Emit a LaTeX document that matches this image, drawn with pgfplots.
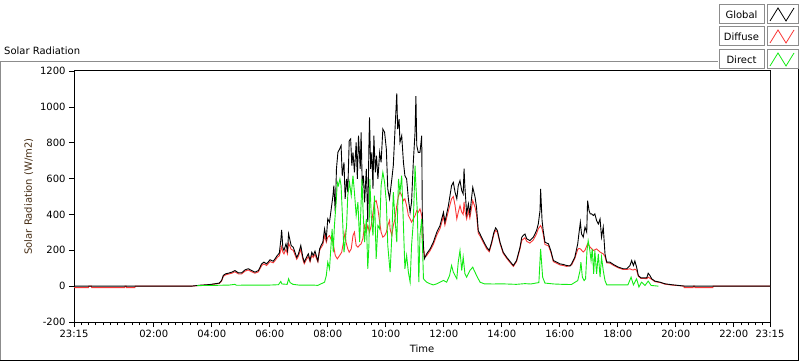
\documentclass[border=0pt]{standalone}
\usepackage{fontspec}
\setmainfont{DejaVu Sans}
\usepackage{pgfplots}
\pgfplotsset{compat=1.18}
\definecolor{ylab}{RGB}{70,45,20}
\definecolor{grn}{RGB}{20,235,20}
\definecolor{rd}{RGB}{250,55,55}
\definecolor{frm}{RGB}{140,140,140}
\begin{document}
\begin{tikzpicture}[font=\fontsize{10bp}{12bp}\selectfont]
\path[use as bounding box] (0bp,0bp) rectangle (800bp,361bp);
% outer frame
\draw[frm, line width=1bp] (0.5bp,0bp) -- (0.5bp,299.5bp) -- (718bp,299.5bp);
\draw[black, line width=1bp] (0bp,0.5bp) -- (798.5bp,0.5bp) -- (798.5bp,292bp);
\node[anchor=west, inner sep=0pt] at (4bp,310bp) {Solar Radiation};
% legend
\foreach \yb/\lab/\col in {337/Global/black, 315/Diffuse/rd, 292/Direct/grn}{
  \draw[frm, line width=1bp, fill=white] (719bp,\yb bp) rectangle (764bp,\yb bp+19bp);
  \node[inner sep=0pt] at (741.5bp,\yb bp+9.5bp) {\lab};
  \draw[frm, line width=1bp, fill=white] (767bp,\yb bp) rectangle (798bp,\yb bp+19bp);
  \draw[\col, line width=0.8bp] (770bp,\yb bp+3bp) -- (778bp,\yb bp+16bp) -- (786bp,\yb bp+3bp) -- (794bp,\yb bp+16bp);
}
\begin{axis}[
  at={(74bp,39bp)}, anchor=south west,
  scale only axis, width=696bp, height=251bp,
  xmin=-0.75, xmax=23.25, ymin=-200, ymax=1200,
  axis line style={black, line width=1bp},
  tick align=outside,
  major tick length=5bp, minor tick length=3bp,
  tick style={black, line width=0.7bp},
  xtick={-0.75,2,4,6,8,10,12,14,16,18,20,22,23.25},
  xticklabels={23:15,02:00,04:00,06:00,08:00,10:00,12:00,14:00,16:00,18:00,20:00,22:00,23:15},
  minor xtick={-0.5,-0.25,...,23},
  ytick={-200,0,200,400,600,800,1000,1200},
  yminorticks=false,
  scaled y ticks=false,
  xtick pos=bottom, ytick pos=left,
  /pgf/number format/assume math mode=true,
  /pgf/number format/1000 sep={},
  ticklabel style={font=\fontsize{10bp}{12bp}\selectfont},
  xlabel={Time},
  ylabel={Solar Radiation (W/m2)},
  ylabel style={color=ylab},
  clip=true,
]
% Diffuse
\addplot[rd, line width=0.9bp] coordinates {
(-0.75,-8) (-0.25,-8) (-0.24,0) (-0.15,0) (-0.14,-8) (1.0,-8) (1.01,0) (1.05,0) (1.06,-8) (1.35,-8) (1.36,0) (3.3,0)
(3.59,4) (3.94,8) (4.26,15) (4.34,28) (4.40,55) (4.48,63) (4.57,67) (4.69,72) (4.80,80) (4.92,68) (5.03,68) (5.15,84) (5.26,90) (5.38,80) (5.49,72) (5.61,80) (5.72,115) (5.80,124) (5.89,115) (6.01,137) (6.12,130) (6.18,142) (6.26,160) (6.33,170) (6.38,200) (6.41,220) (6.45,190) (6.49,180) (6.56,205) (6.61,180) (6.65,240) (6.70,220) (6.74,205) (6.81,200) (6.87,175) (6.93,150) (6.99,168) (7.07,205) (7.14,150) (7.19,125) (7.27,150) (7.33,165) (7.39,135) (7.45,172) (7.50,160) (7.56,178) (7.62,150) (7.66,135) (7.72,200) (7.77,215) (7.83,230) (7.89,282) (7.95,245) (8.00,273) (8.06,282) (8.12,260) (8.18,245) (8.26,171) (8.33,152) (8.41,171) (8.48,189) (8.56,264) (8.60,301) (8.63,245) (8.69,208) (8.74,189) (8.81,208) (8.87,282) (8.92,301) (8.98,227) (9.04,217) (9.09,227) (9.15,236) (9.21,264) (9.27,338) (9.33,301) (9.38,338) (9.44,301) (9.50,338) (9.56,412) (9.61,468) (9.67,477) (9.73,431) (9.79,357) (9.84,301) (9.90,273) (9.96,282) (10.02,301) (10.07,338) (10.13,366) (10.15,319) (10.21,282) (10.26,338) (10.32,375) (10.38,449) (10.44,505) (10.49,524) (10.55,505) (10.61,477) (10.66,487) (10.72,449) (10.78,394) (10.84,375) (10.89,357) (10.95,375) (11.01,394) (11.07,422) (11.12,412) (11.18,431) (11.24,394) (11.26,245) (11.30,208) (11.35,162) (11.41,170) (11.53,198) (11.64,232) (11.76,285) (11.87,320) (11.99,390) (12.04,340) (12.16,420) (12.27,487) (12.33,500) (12.39,450) (12.45,375) (12.50,412) (12.56,449) (12.62,412) (12.67,400) (12.70,470) (12.73,420) (12.79,375) (12.85,420) (12.90,380) (13.0,477) (13.08,440) (13.13,400) (13.19,295) (13.25,280) (13.36,245) (13.48,208) (13.57,192) (13.65,236) (13.73,290) (13.79,312) (13.85,300) (13.94,238) (14.05,183) (14.17,155) (14.28,133) (14.40,110) (14.51,137) (14.63,208) (14.69,255) (14.74,262) (14.80,270) (14.86,250) (14.97,240) (15.09,258) (15.20,292) (15.26,320) (15.34,338) (15.39,320) (15.43,290) (15.49,232) (15.61,225) (15.69,190) (15.78,137) (15.89,128) (16.01,118) (16.12,115) (16.24,110) (16.41,118) (16.52,155) (16.62,205) (16.66,210) (16.71,208) (16.81,190) (16.87,200) (16.96,236) (17.05,217) (17.16,199) (17.27,208) (17.39,190) (17.50,180) (17.56,165) (17.62,130) (17.73,128) (17.85,116) (18.02,102) (18.19,93) (18.31,93) (18.42,97) (18.48,92) (18.54,90) (18.59,95) (18.65,88) (18.71,55) (18.80,43) (19.0,42) (19.05,50) (19.17,38) (19.28,25) (19.46,20) (19.63,11) (19.86,6) (20.09,3) (20.28,0) (20.29,-8) (20.6,-8) (20.61,0) (20.65,0) (20.66,-8) (21.28,-8) (21.29,0) (23.25,0)
};
% Global
\addplot[black, line width=0.9bp] coordinates {
(-0.75,0) (3.3,0) (3.59,5) (3.94,9) (4.26,17) (4.34,32) (4.40,60) (4.48,69) (4.57,72) (4.69,78) (4.80,87) (4.92,74) (5.03,74) (5.15,91) (5.26,97) (5.38,87) (5.49,78) (5.61,87) (5.72,124) (5.80,134) (5.89,124) (6.01,147) (6.12,139) (6.18,152) (6.26,171) (6.33,184) (6.38,254) (6.41,314) (6.45,217) (6.49,199) (6.56,236) (6.61,199) (6.65,292) (6.70,254) (6.74,226) (6.81,217) (6.87,189) (6.93,160) (6.99,180) (7.07,227) (7.14,162) (7.19,134) (7.27,162) (7.33,180) (7.39,143) (7.45,189) (7.50,171) (7.56,195) (7.62,162) (7.66,140) (7.72,208) (7.77,227) (7.83,245) (7.89,319) (7.95,264) (8.00,375) (8.06,357) (8.12,431) (8.18,505) (8.21,561) (8.26,412) (8.30,654) (8.35,746) (8.41,765) (8.46,784) (8.50,616) (8.56,690) (8.60,487) (8.65,598) (8.69,524) (8.74,811) (8.79,821) (8.83,672) (8.87,746) (8.92,635) (8.98,802) (9.02,598) (9.06,839) (9.12,654) (9.15,858) (9.19,561) (9.23,616) (9.27,468) (9.33,654) (9.38,357) (9.42,784) (9.44,941) (9.48,654) (9.52,746) (9.56,542) (9.59,839) (9.64,635) (9.68,728) (9.73,598) (9.79,746) (9.84,690) (9.90,876) (9.96,858) (10.02,765) (10.07,542) (10.13,487) (10.21,598) (10.26,672) (10.32,876) (10.38,1075) (10.41,876) (10.46,932) (10.49,802) (10.55,839) (10.61,690) (10.66,616) (10.72,598) (10.78,487) (10.84,412) (10.89,468) (10.95,690) (11.01,858) (11.04,1060) (11.07,784) (11.12,746) (11.18,746) (11.24,839) (11.26,412) (11.30,227) (11.33,152) (11.41,180) (11.53,208) (11.64,245) (11.76,301) (11.87,338) (11.99,412) (12.04,357) (12.16,449) (12.27,561) (12.33,579) (12.39,524) (12.45,487) (12.50,561) (12.56,589) (12.62,533) (12.67,514) (12.70,655) (12.73,551) (12.79,403) (12.85,459) (12.90,403) (13.0,551) (13.08,496) (13.13,440) (13.19,310) (13.25,291) (13.36,254) (13.48,217) (13.57,199) (13.65,245) (13.73,301) (13.79,325) (13.85,310) (13.94,245) (14.05,189) (14.17,161) (14.28,139) (14.40,115) (14.51,143) (14.63,217) (14.69,273) (14.74,282) (14.80,291) (14.86,264) (14.97,254) (15.09,273) (15.20,310) (15.26,347) (15.32,422) (15.34,542) (15.39,366) (15.43,310) (15.49,245) (15.61,236) (15.69,199) (15.78,143) (15.89,134) (16.01,124) (16.12,121) (16.24,115) (16.35,112) (16.41,125) (16.52,162) (16.62,236) (16.66,292) (16.71,357) (16.75,292) (16.81,273) (16.87,329) (16.93,301) (16.96,477) (17.01,422) (17.05,403) (17.10,403) (17.16,394) (17.21,403) (17.27,366) (17.33,347) (17.39,375) (17.44,273) (17.50,329) (17.56,180) (17.62,134) (17.73,134) (17.85,121) (18.02,106) (18.19,97) (18.31,97) (18.42,115) (18.48,143) (18.54,115) (18.59,140) (18.65,106) (18.71,59) (18.80,46) (18.88,46) (19.0,46) (19.05,72) (19.11,59) (19.17,41) (19.28,28) (19.46,22) (19.63,13) (19.86,8) (20.09,4) (20.32,0) (23.25,0)
};
% Direct
\addplot[grn, line width=0.9bp] coordinates {
(3.5,3) (4.0,4) (4.6,6) (4.8,10) (4.85,5) (5.5,6) (6.0,6) (6.3,8) (6.38,26) (6.42,12) (6.6,10) (6.65,41) (6.70,20) (6.8,10) (7.0,6) (7.5,6) (7.66,4) (7.77,13) (7.89,22) (7.95,59) (8.00,134) (8.06,97) (8.12,245) (8.15,319) (8.19,189) (8.23,338) (8.29,468) (8.33,579) (8.37,561) (8.42,598) (8.46,561) (8.52,338) (8.56,189) (8.60,245) (8.65,338) (8.69,505) (8.75,579) (8.81,505) (8.87,616) (8.92,524) (8.98,394) (9.04,468) (9.10,245) (9.13,375) (9.18,598) (9.22,412) (9.27,245) (9.33,375) (9.38,97) (9.42,227) (9.45,598) (9.50,394) (9.56,282) (9.61,505) (9.67,152) (9.73,338) (9.79,319) (9.84,561) (9.90,635) (9.96,579) (10.02,468) (10.07,227) (10.13,115) (10.15,78) (10.21,282) (10.26,524) (10.32,375) (10.38,245) (10.44,598) (10.49,524) (10.55,616) (10.61,338) (10.66,97) (10.72,171) (10.78,78) (10.84,22) (10.89,227) (10.95,357) (11.01,672) (11.04,561) (11.09,412) (11.14,22) (11.18,282) (11.24,375) (11.30,41) (11.41,22) (11.53,13) (11.64,7) (11.76,13) (11.87,22) (11.99,32) (12.1,22) (12.2,59) (12.27,115) (12.33,78) (12.45,41) (12.50,134) (12.56,199) (12.62,87) (12.67,162) (12.73,69) (12.79,50) (12.90,87) (13.0,106) (13.05,87) (13.13,60) (13.25,22) (13.4,13) (13.7,12) (14.0,13) (14.5,10) (14.8,14) (15.0,12) (15.28,20) (15.34,208) (15.41,50) (15.49,17) (15.8,12) (16.1,10) (16.4,9) (16.62,31) (16.70,87) (16.73,134) (16.78,50) (16.84,31) (16.89,41) (16.94,199) (16.98,254) (17.03,208) (17.08,143) (17.12,208) (17.17,69) (17.21,199) (17.27,69) (17.33,180) (17.39,50) (17.44,162) (17.50,87) (17.56,31) (17.62,7) (18.35,7) (18.46,50) (18.54,7) (18.65,41) (18.73,-5) (18.82,22) (18.94,4) (19.05,28) (19.15,4) (19.4,0)
};
\draw[frm, line width=1bp] (rel axis cs:1,0) -- (rel axis cs:1,1);
\end{axis}
\end{tikzpicture}
\end{document}
